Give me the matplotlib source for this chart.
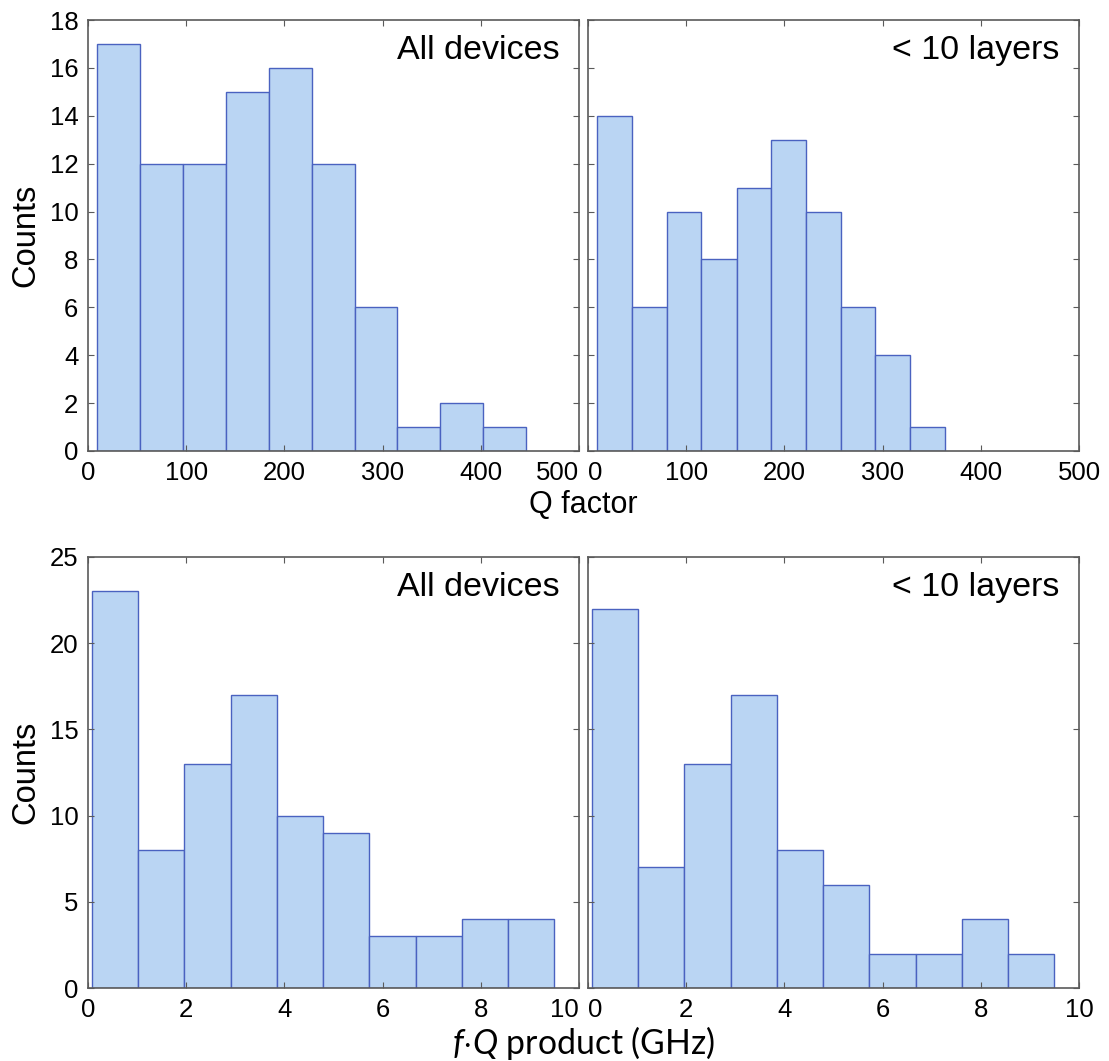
import numpy as np
import matplotlib
matplotlib.use("Agg")
import matplotlib.pyplot as plt

plt.rcParams.update({
    'font.family': ['Liberation Sans', 'DejaVu Sans'],
    'mathtext.fontset': 'custom',
    'mathtext.rm': 'Lato',
    'mathtext.it': 'Lato:italic',
})

# --- histogram data ---
q_all_edges = [9.4, 53.1, 96.8, 140.4, 184.1, 227.8, 271.5, 315.1, 358.8, 402.5, 445.8]
q_all_counts = [17, 12, 12, 15, 16, 12, 6, 1, 2, 1]

q_thin_edges = [9.1, 45.1, 80.4, 115.3, 151.3, 186.6, 221.9, 257.5, 292.5, 327.7, 363.7]
q_thin_counts = [14, 6, 10, 8, 11, 13, 10, 6, 4, 1]

fq_edges = [0.075, 1.017, 1.965, 2.907, 3.848, 4.789, 5.73, 6.68, 7.61, 8.55, 9.496]
fq_all_counts = [23, 8, 13, 17, 10, 9, 3, 3, 4, 4]
fq_thin_counts = [22, 7, 13, 17, 8, 6, 2, 2, 4, 2]

q_ticks = [0, 100, 200, 300, 400, 500]
q_yticks = [0, 2, 4, 6, 8, 10, 12, 14, 16, 18]
fq_ticks = [0, 2, 4, 6, 8, 10]
fq_yticks = [0, 5, 10, 15, 20, 25]

FACE = '#BAD5F3'
EDGE = '#4A62C0'
SPINE = '#5a5a5a'

W, H = 1109, 1061
fig = plt.figure(figsize=(W / 100, H / 100), dpi=100)


def make_ax(x0, y0, x1, y1):
    # pixel box -> figure fraction
    return fig.add_axes([x0 / W, 1 - y1 / H, (x1 - x0) / W, (y1 - y0) / H])


def draw_hist(ax, edges, counts, xlim, xticks, ylim, yticks, tag, left_panel):
    edges = np.asarray(edges)
    ax.bar(edges[:-1], counts, width=np.diff(edges), align='edge',
           color=FACE, edgecolor=EDGE, linewidth=1.0)
    ax.set_xlim(*xlim)
    ax.set_ylim(*ylim)
    ax.set_xticks(xticks)
    ax.set_yticks(yticks)
    ax.tick_params(direction='in', length=4, width=0.8, color=SPINE,
                   top=True, right=True, labelsize=18.5, labelcolor='black')
    ax.tick_params(axis='x', pad=7)
    ax.tick_params(axis='y', pad=7)
    labels = ax.get_xticklabels()
    if left_panel:
        # last label nudged left so it does not run into the next panel
        labels[-1].set_horizontalalignment('right')
        labels[-1].set_x(xticks[-1])
    else:
        ax.set_yticklabels([])
        labels[0].set_horizontalalignment('left')
    for s in ax.spines.values():
        s.set_color(SPINE)
        s.set_linewidth(1.2)
    ax.text(0.96, 0.93, tag, transform=ax.transAxes, ha='right', va='center',
            fontsize=24.5)


ax1 = make_ax(88, 20, 579, 451)
ax2 = make_ax(588, 20, 1079, 451)
ax3 = make_ax(88, 557, 579, 988)
ax4 = make_ax(588, 557, 1079, 988)

draw_hist(ax1, q_all_edges, q_all_counts, (0, 500), q_ticks, (0, 18), q_yticks, 'All devices', True)
draw_hist(ax2, q_thin_edges, q_thin_counts, (0, 500), q_ticks, (0, 18), q_yticks, '< 10 layers', False)
draw_hist(ax3, fq_edges, fq_all_counts, (0, 10), fq_ticks, (0, 25), fq_yticks, 'All devices', True)
draw_hist(ax4, fq_edges, fq_thin_counts, (0, 10), fq_ticks, (0, 25), fq_yticks, '< 10 layers', False)

ax1.set_ylabel('Counts', fontsize=23.5, labelpad=6)
ax3.set_ylabel('Counts', fontsize=23.5, labelpad=6)

fig.text(583 / W, 1 - 505 / H, 'Q factor', ha='center', va='center', fontsize=22)
fig.text(584 / W, 1 - 1043 / H, r'$f{\cdot}Q$ product (GHz)', ha='center', va='center',
         fontsize=24.3, family='Lato')

fig.savefig('out.png', dpi=100)
